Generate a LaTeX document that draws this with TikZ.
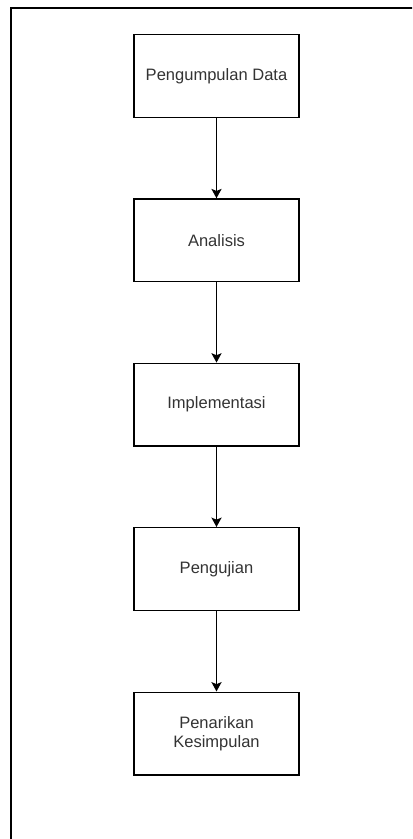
\documentclass[tikz,border=0pt]{standalone}
\usepackage{fontspec}
\setmainfont{Liberation Sans}
\usetikzlibrary{arrows.meta}
\definecolor{textgray}{HTML}{333333}
\tikzset{
  tahap/.style={draw, line width=1.1pt, minimum width=123.75pt, minimum height=61.9pt,
    align=center, text=textgray, font=\fontsize{12.4}{14.3}\selectfont},
  panah/.style={line width=1.4pt, -{Stealth[length=7pt,width=7.5pt,inset=1.5pt]}}
}
\begin{document}
\begin{tikzpicture}[x=0.75pt,y=-0.75pt]
  \useasboundingbox (0,0) rectangle (412,839);
  \clip (0,0) rectangle (412,839);
  \draw[line width=1.3pt] (11,8) rectangle (430,860); % bingkai
  % tahapan
  \node[tahap] (kumpul) at (216.5,76) {Pengumpulan Data};
  \node[tahap] (analisis) at (216.5,240.3) {Analisis};
  \node[tahap] (implementasi) at (216.5,404.6) {Implementasi};
  \node[tahap] (uji) at (216.5,569) {Pengujian};
  \node[tahap] (simpul) at (216.5,733.5) {Penarikan\\Kesimpulan};
  % panah
  \draw[panah] (kumpul) -- (analisis);
  \draw[panah] (analisis) -- (implementasi);
  \draw[panah] (implementasi) -- (uji);
  \draw[panah] (uji) -- (simpul);
\end{tikzpicture}
\end{document}
